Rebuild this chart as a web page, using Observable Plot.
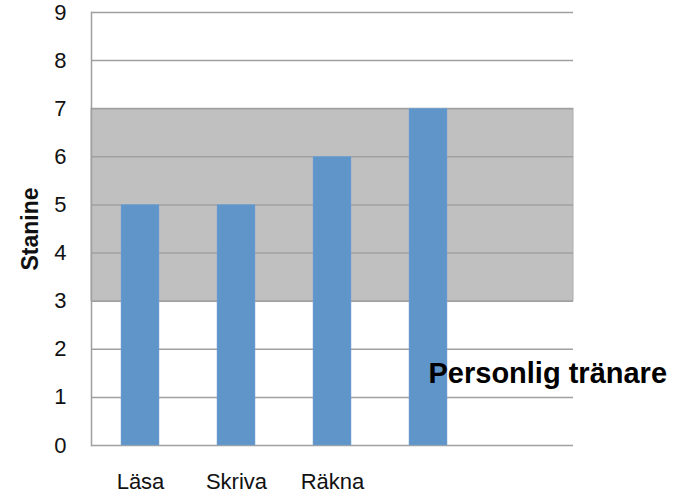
<!DOCTYPE html>
<html>
<head>
<meta charset="utf-8">
<script src="https://cdn.jsdelivr.net/npm/d3@7"></script>
<script src="https://cdn.jsdelivr.net/npm/@observablehq/plot@0.6"></script>
<style>
  html, body { margin: 0; padding: 0; background: #fff; }
</style>
</head>
<body>
<div id="chart"></div>
<script>
const categories = ["Läsa", "Skriva", "Räkna", " ", "  "];
const values = [5, 5, 6, 7, null];
const yTicks = [0, 1, 2, 3, 4, 5, 6, 7, 8, 9];
const bandRange = [3, 7];
const yLabel = "Stanine";
const noteText = "Personlig tränare";
const noteCategory = " ";
const noteValue = 1.5;

const data = categories.map((c, i) => ({ cat: c, value: values[i] })).filter(d => d.value != null);

const chart = Plot.plot({
  width: 681,
  height: 496,
  marginLeft: 91,
  marginRight: 108,
  marginTop: 12,
  marginBottom: 51,
  style: { fontFamily: "'Liberation Sans', Arial, sans-serif", fontSize: "22px", color: "#111", background: "#fff" },
  x: { domain: categories, paddingInner: 0.6, paddingOuter: 0.3, label: null },
  y: { domain: [0, 9], label: null },
  marks: [
    Plot.rectY([bandRange], { y1: d => d[0], y2: d => d[1], fill: "#c0c0c0", stroke: "#acacac", strokeWidth: 1 }),
    Plot.ruleY(yTicks, { stroke: "#a0a0a0", strokeWidth: 1.5 }),
    Plot.frame({ anchor: "left", stroke: "#a0a0a0", strokeWidth: 1.5 }),
    Plot.barY(data, { x: "cat", y: "value", fill: "#5f95c8", stroke: "#7aa7d4", strokeWidth: 0.5 }),
    Plot.axisY(yTicks, { tickSize: 0, tickPadding: 25, fontSize: 22, label: null }),
    Plot.axisX({ tickSize: 0, tickPadding: 28, fontSize: 22, label: null, tickFormat: d => d.trim() }),
    Plot.text([yLabel], { frameAnchor: "left", textAnchor: "middle", rotate: -90, dx: -61, text: d => d, fontSize: 23, fontWeight: "bold" }),
    Plot.text([noteText], { x: () => noteCategory, y: () => noteValue, text: d => d, textAnchor: "start", fontSize: 29, fontWeight: "bold", fill: "#000" })
  ]
});
document.getElementById("chart").appendChild(chart);
</script>
</body>
</html>
